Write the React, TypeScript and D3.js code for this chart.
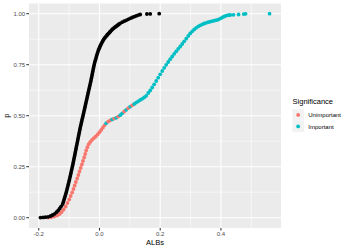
import * as d3 from 'd3'
import { useEffect } from 'react'

const X_TICKS = [-0.2, 0, 0.2, 0.4]
const X_MINOR = [-0.1, 0.1, 0.3, 0.5]
const Y_TICKS = [0, 0.25, 0.5, 0.75, 1]
const Y_MINOR = [0.125, 0.375, 0.625, 0.875]
const LEGEND_LABELS = ['Unimportant', 'Important']
const SIG_COLORS = ['#F8766D', '#00BFC4']

// reference ECDF (black): [ALBs, p]
const referenceEcdf: [number, number][] = [
  [-0.1944, 0.0005], [-0.1855, 0.0015], [-0.1773, 0.0025], [-0.1690, 0.0044], [-0.1608, 0.0083],
  [-0.1542, 0.0132], [-0.1476, 0.0191], [-0.1417, 0.0270], [-0.1361, 0.0353], [-0.1308, 0.0451],
  [-0.1262, 0.0559], [-0.1213, 0.0672], [-0.1191, 0.0770], [-0.1170, 0.0868], [-0.1150, 0.0966],
  [-0.1130, 0.1064], [-0.1110, 0.1162], [-0.1091, 0.1260], [-0.1074, 0.1358], [-0.1058, 0.1456],
  [-0.1041, 0.1554], [-0.1025, 0.1652], [-0.1008, 0.1750], [-0.0992, 0.1848], [-0.0977, 0.1946],
  [-0.0962, 0.2044], [-0.0947, 0.2142], [-0.0932, 0.2240], [-0.0918, 0.2338], [-0.0903, 0.2436],
  [-0.0888, 0.2534], [-0.0873, 0.2632], [-0.0860, 0.2730], [-0.0847, 0.2828], [-0.0834, 0.2926],
  [-0.0820, 0.3025], [-0.0807, 0.3123], [-0.0794, 0.3221], [-0.0781, 0.3319], [-0.0768, 0.3417],
  [-0.0755, 0.3515], [-0.0741, 0.3613], [-0.0728, 0.3711], [-0.0715, 0.3809], [-0.0702, 0.3907],
  [-0.0689, 0.4005], [-0.0675, 0.4103], [-0.0662, 0.4201], [-0.0649, 0.4299], [-0.0636, 0.4397],
  [-0.0621, 0.4495], [-0.0606, 0.4593], [-0.0591, 0.4691], [-0.0577, 0.4789], [-0.0560, 0.4887],
  [-0.0544, 0.4985], [-0.0529, 0.5083], [-0.0514, 0.5181], [-0.0499, 0.5279], [-0.0484, 0.5377],
  [-0.0470, 0.5475], [-0.0455, 0.5574], [-0.0440, 0.5672], [-0.0425, 0.5770], [-0.0410, 0.5868],
  [-0.0395, 0.5966], [-0.0381, 0.6064], [-0.0366, 0.6162], [-0.0351, 0.6260], [-0.0336, 0.6358],
  [-0.0321, 0.6456], [-0.0306, 0.6554], [-0.0291, 0.6652], [-0.0277, 0.6750], [-0.0264, 0.6848],
  [-0.0250, 0.6946], [-0.0237, 0.7044], [-0.0224, 0.7142], [-0.0211, 0.7240], [-0.0198, 0.7338],
  [-0.0183, 0.7436], [-0.0168, 0.7534], [-0.0152, 0.7632], [-0.0132, 0.7730], [-0.0114, 0.7828],
  [-0.0096, 0.7926], [-0.0076, 0.8025], [-0.0054, 0.8123], [-0.0033, 0.8221], [-0.0010, 0.8294],
  [0.0010, 0.8368], [0.0033, 0.8441], [0.0056, 0.8515], [0.0082, 0.8588], [0.0109, 0.8662],
  [0.0138, 0.8735], [0.0171, 0.8809], [0.0204, 0.8868], [0.0231, 0.8917], [0.0254, 0.8956],
  [0.0280, 0.9000], [0.0303, 0.9039], [0.0329, 0.9078], [0.0353, 0.9118], [0.0386, 0.9172],
  [0.0418, 0.9225], [0.0451, 0.9270], [0.0484, 0.9309], [0.0517, 0.9348], [0.0550, 0.9382],
  [0.0583, 0.9422], [0.0616, 0.9456], [0.0649, 0.9495], [0.0682, 0.9529], [0.0748, 0.9583],
  [0.0814, 0.9632], [0.0880, 0.9676], [0.0946, 0.9725], [0.1012, 0.9775], [0.1077, 0.9814],
  [0.1143, 0.9853], [0.1209, 0.9892], [0.1275, 0.9931], [0.1341, 0.9961], [0.1562, 0.9985],
  [0.1671, 0.9990], [0.1967, 1.0000],
]

// observed ECDF, split by significance
const unimportantPoints: [number, number][] = [
  [-0.1690, 0.0005], [-0.1591, 0.0020], [-0.1493, 0.0054], [-0.1394, 0.0108], [-0.1311, 0.0181],
  [-0.1245, 0.0279], [-0.1180, 0.0402], [-0.1114, 0.0549], [-0.1054, 0.0721], [-0.0998, 0.0892],
  [-0.0949, 0.1064], [-0.0900, 0.1235], [-0.0857, 0.1407], [-0.0817, 0.1578], [-0.0778, 0.1750],
  [-0.0735, 0.1922], [-0.0695, 0.2093], [-0.0659, 0.2265], [-0.0619, 0.2436], [-0.0580, 0.2608],
  [-0.0544, 0.2779], [-0.0504, 0.2951], [-0.0471, 0.3123], [-0.0438, 0.3294], [-0.0399, 0.3456],
  [-0.0356, 0.3603], [-0.0306, 0.3711], [-0.0247, 0.3809], [-0.0188, 0.3897], [-0.0125, 0.3980],
  [-0.0059, 0.4078], [0.0000, 0.4191], [0.0056, 0.4299], [0.0112, 0.4412], [0.0165, 0.4529],
  [0.0287, 0.4711], [0.0353, 0.4775], [0.0484, 0.4858], [0.0616, 0.4956], [0.0814, 0.5206],
  [0.0946, 0.5368], [0.1077, 0.5510],
]

const importantPoints: [number, number][] = [
  [0.0221, 0.4632], [0.0418, 0.4819], [0.0550, 0.4897], [0.0682, 0.5025], [0.0748, 0.5118],
  [0.0880, 0.5289], [0.1012, 0.5441], [0.1143, 0.5574], [0.1209, 0.5642], [0.1275, 0.5706],
  [0.1341, 0.5770], [0.1407, 0.5828], [0.1473, 0.5897], [0.1539, 0.5975], [0.1605, 0.6113],
  [0.1671, 0.6235], [0.1736, 0.6382], [0.1802, 0.6539], [0.1868, 0.6701], [0.1934, 0.6863],
  [0.2000, 0.7029], [0.2066, 0.7191], [0.2132, 0.7348], [0.2198, 0.7495], [0.2264, 0.7632],
  [0.2329, 0.7770], [0.2395, 0.7902], [0.2461, 0.8034], [0.2527, 0.8157], [0.2593, 0.8279],
  [0.2659, 0.8392], [0.2725, 0.8515], [0.2791, 0.8647], [0.2857, 0.8775], [0.2923, 0.8907],
  [0.2988, 0.9029], [0.3054, 0.9137], [0.3120, 0.9230], [0.3186, 0.9309], [0.3252, 0.9377],
  [0.3318, 0.9431], [0.3384, 0.9475], [0.3450, 0.9520], [0.3516, 0.9554], [0.3582, 0.9583],
  [0.3647, 0.9608], [0.3713, 0.9632], [0.3779, 0.9657], [0.3845, 0.9681], [0.3911, 0.9711],
  [0.3977, 0.9760], [0.4043, 0.9814], [0.4109, 0.9863], [0.4175, 0.9902], [0.4241, 0.9926],
  [0.4306, 0.9936], [0.4415, 0.9946], [0.4580, 0.9961], [0.4751, 0.9980], [0.4811, 0.9995],
  [0.5601, 1.0000],
]

const W = 350
const H = 250
const PANEL = { left: 29, right: 281, top: 3.5, bottom: 227.9 }
const FONT = '"Liberation Sans", Arial, Helvetica, sans-serif'
const R = 1.9

export default function App() {
  useEffect(() => {
    document.body.style.margin = '0'
  }, [])

  // ggplot-style 5% expansion
  const [xMin, xMax] = d3.extent([...referenceEcdf, ...unimportantPoints, ...importantPoints], d => d[0]) as [number, number]
  const xPad = (xMax - xMin) * 0.05
  const x = d3.scaleLinear().domain([xMin - xPad, xMax + xPad]).range([PANEL.left, PANEL.right])
  const y = d3.scaleLinear().domain([-0.05, 1.05]).range([PANEL.bottom, PANEL.top])

  // colored points drawn interleaved by p so the overlap mixes
  const colored = [
    ...unimportantPoints.map(d => ({ alb: d[0], p: d[1], sig: 0 })),
    ...importantPoints.map(d => ({ alb: d[0], p: d[1], sig: 1 })),
  ].sort((a, b) => a.p - b.p)

  const pw = PANEL.right - PANEL.left
  const ph = PANEL.bottom - PANEL.top

  return (
    <svg width={W} height={H} style={{ display: 'block', background: '#fff' }} fontFamily={FONT}>
      <rect x={PANEL.left} y={PANEL.top} width={pw} height={ph} fill="#EBEBEB" />

      {/* grid */}
      {X_MINOR.map(v => (
        <line key={'xm' + v} x1={x(v)} x2={x(v)} y1={PANEL.top} y2={PANEL.bottom} stroke="#fff" strokeWidth={0.55} />
      ))}
      {Y_MINOR.map(v => (
        <line key={'ym' + v} x1={PANEL.left} x2={PANEL.right} y1={y(v)} y2={y(v)} stroke="#fff" strokeWidth={0.55} />
      ))}
      {X_TICKS.map(v => (
        <line key={'xg' + v} x1={x(v)} x2={x(v)} y1={PANEL.top} y2={PANEL.bottom} stroke="#fff" strokeWidth={1.1} />
      ))}
      {Y_TICKS.map(v => (
        <line key={'yg' + v} x1={PANEL.left} x2={PANEL.right} y1={y(v)} y2={y(v)} stroke="#fff" strokeWidth={1.1} />
      ))}

      {/* points */}
      {colored.map((d, i) => (
        <circle key={'c' + i} cx={x(d.alb)} cy={y(d.p)} r={R} fill={SIG_COLORS[d.sig]} />
      ))}
      {referenceEcdf.map((d, i) => (
        <circle key={'b' + i} cx={x(d[0])} cy={y(d[1])} r={R} fill="#000" />
      ))}

      {/* axes */}
      {X_TICKS.map(v => (
        <g key={'xt' + v}>
          <line x1={x(v)} x2={x(v)} y1={PANEL.bottom} y2={PANEL.bottom + 2.7} stroke="#333" strokeWidth={1.05} />
          <text x={x(v)} y={PANEL.bottom + 7.8} textAnchor="middle" fontSize={6} fill="#4D4D4D">
            {v.toFixed(1)}
          </text>
        </g>
      ))}
      {Y_TICKS.map(v => (
        <g key={'yt' + v}>
          <line x1={PANEL.left - 2.7} x2={PANEL.left} y1={y(v)} y2={y(v)} stroke="#333" strokeWidth={1.05} />
          <text x={PANEL.left - 3.8} y={y(v) + 2.15} textAnchor="end" fontSize={6} fill="#4D4D4D">
            {v.toFixed(2)}
          </text>
        </g>
      ))}
      <text x={(PANEL.left + PANEL.right) / 2} y={245.3} textAnchor="middle" fontSize={7.5} fill="#000">
        ALBs
      </text>
      <text transform={`translate(9.4,${(PANEL.top + PANEL.bottom) / 2}) rotate(-90)`} textAnchor="middle" fontSize={7.5} fill="#000">
        p
      </text>

      {/* legend */}
      <text x={292.6} y={103.6} fontSize={7.5} fill="#000">Significance</text>
      {LEGEND_LABELS.map((lab, i) => (
        <g key={lab} transform={`translate(292.4,${109.2 + i * 11.5})`}>
          <rect width={11.5} height={11.5} fill="#F2F2F2" />
          <circle cx={5.75} cy={5.75} r={R} fill={SIG_COLORS[i]} />
          <text x={15.9} y={8} fontSize={6} fill="#000">{lab}</text>
        </g>
      ))}
    </svg>
  )
}
